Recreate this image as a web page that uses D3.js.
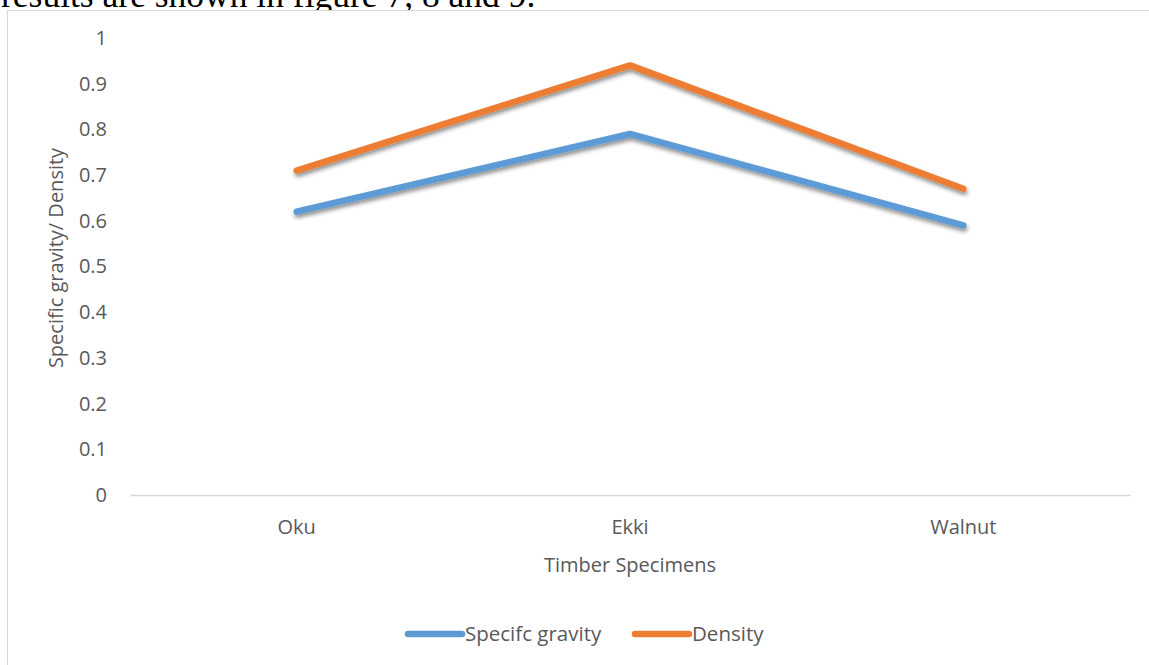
<!DOCTYPE html>
<html>
<head>
<meta charset="utf-8">
<script src="https://cdn.jsdelivr.net/npm/d3@7/dist/d3.min.js"></script>
<style>
  html, body { margin: 0; padding: 0; background: #fff; }
  svg { display: block; }
</style>
</head>
<body>
<svg id="chart" width="1149" height="665"></svg>
<script>
// Timber specimens and measured values
const categories = ["Oku", "Ekki", "Walnut"];
const specificGravity = [0.62, 0.79, 0.59];
const density = [0.71, 0.94, 0.67];
const seriesNames = ["Specifc gravity", "Density"];
const yTicks = [0, 0.1, 0.2, 0.3, 0.4, 0.5, 0.6, 0.7, 0.8, 0.9, 1];

const series = [
  { name: seriesNames[0], values: specificGravity, color: "#5B9BD5" },
  { name: seriesNames[1], values: density, color: "#ED7D31" }
];

const font = "'Open Sans', 'Noto Sans', sans-serif";
const fontSize = 20;
const textColor = "#595959";
const svg = d3.select("#chart");

// soft drop shadow under the lines
const defs = svg.append("defs");
const f = defs.append("filter").attr("id", "shadow")
  .attr("x", "-5%").attr("y", "-20%").attr("width", "110%").attr("height", "160%");
f.append("feGaussianBlur").attr("in", "SourceAlpha").attr("stdDeviation", 2.2).attr("result", "b");
f.append("feOffset").attr("in", "b").attr("dx", 1).attr("dy", 3).attr("result", "o");
f.append("feComponentTransfer").attr("in", "o").attr("result", "s")
  .append("feFuncA").attr("type", "linear").attr("slope", 0.45);
const m = f.append("feMerge");
m.append("feMergeNode").attr("in", "s");
m.append("feMergeNode").attr("in", "SourceGraphic");

// running text of the page above the chart
svg.append("text")
  .attr("x", 1).attr("y", 7)
  .attr("font-family", "'Liberation Serif', 'Times New Roman', serif")
  .attr("font-size", 35.5).attr("fill", "#000")
  .text("results are shown in figure 7, 8 and 9.");

// chart frame
svg.append("rect")
  .attr("x", 7.5).attr("y", 10.5).attr("width", 1200).attr("height", 700)
  .attr("fill", "#fff").attr("stroke", "#d9d9d9").attr("stroke-width", 1);

const plot = { left: 130, right: 1130, top: 38, bottom: 495 };

const x = d3.scaleBand().domain(categories).range([plot.left, plot.right]);
const y = d3.scaleLinear().domain([0, 1]).range([plot.bottom, plot.top]);

// y axis labels
const yAxis = svg.append("g")
  .attr("transform", `translate(107,0)`)
  .call(d3.axisLeft(y).tickValues(yTicks).tickSize(0).tickPadding(0)
    .tickFormat(d => d3.format("")(+d.toFixed(1))));
yAxis.select(".domain").remove();
yAxis.selectAll("text")
  .attr("font-family", font).attr("font-size", fontSize).attr("fill", textColor);

// x axis baseline and labels
const xAxis = svg.append("g")
  .attr("transform", `translate(0,${plot.bottom})`)
  .call(d3.axisBottom(x).tickSize(0).tickPadding(25));
xAxis.select(".domain").attr("stroke", "#d9d9d9").attr("stroke-width", 1.5);
xAxis.selectAll("text")
  .attr("font-family", font).attr("font-size", fontSize).attr("fill", textColor);

// axis titles
svg.append("text")
  .attr("x", (plot.left + plot.right) / 2).attr("y", 572)
  .attr("text-anchor", "middle")
  .attr("font-family", font).attr("font-size", fontSize).attr("fill", textColor)
  .text("Timber Specimens");

svg.append("text")
  .attr("transform", `translate(63,258) rotate(-90)`)
  .attr("text-anchor", "middle")
  .attr("font-family", font).attr("font-size", fontSize).attr("fill", textColor)
  .text("Specific gravity/ Density");

// series lines
const line = d3.line()
  .x((d, i) => x(categories[i]) + x.bandwidth() / 2)
  .y(d => y(d));

svg.append("g").selectAll("path")
  .data(series)
  .join("path")
  .attr("d", d => line(d.values))
  .attr("fill", "none")
  .attr("stroke", d => d.color)
  .attr("stroke-width", 6.5)
  .attr("stroke-linecap", "round")
  .attr("stroke-linejoin", "round")
  .attr("filter", "url(#shadow)");

// legend
const legend = svg.append("g").attr("transform", "translate(0,634)");
const legendX = [408, 635];
series.forEach((s, i) => {
  const g = legend.append("g").attr("transform", `translate(${legendX[i]},0)`);
  g.append("line")
    .attr("x1", 0).attr("x2", 54).attr("y1", 0).attr("y2", 0)
    .attr("stroke", s.color).attr("stroke-width", 6.5).attr("stroke-linecap", "round");
  g.append("text")
    .attr("x", 57).attr("y", 7)
    .attr("font-family", font).attr("font-size", 20.5).attr("fill", textColor)
    .text(s.name);
});
</script>
</body>
</html>
